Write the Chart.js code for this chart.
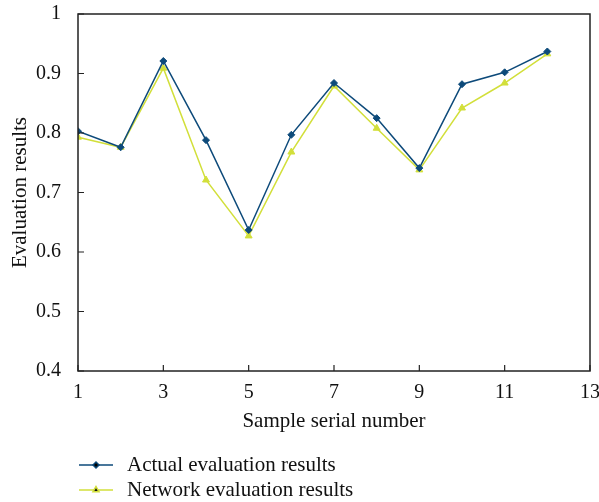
<!DOCTYPE html>
<html>
<head>
<meta charset="utf-8">
<script src="https://cdn.jsdelivr.net/npm/chart.js@4.4.0/dist/chart.umd.min.js"></script>
<style>
  html, body { margin: 0; padding: 0; background: #fff; }
  #wrap { width: 599px; height: 502px; }
</style>
</head>
<body>
<div id="wrap"><canvas id="chartEval"></canvas></div>
<script>
// data
const samples = [1, 2, 3, 4, 5, 6, 7, 8, 9, 10, 11, 12];
const actualResults = [0.803, 0.776, 0.921, 0.788, 0.637, 0.797, 0.884, 0.825, 0.741, 0.882, 0.902, 0.937];
const networkResults = [0.793, 0.776, 0.909, 0.721, 0.627, 0.768, 0.879, 0.808, 0.738, 0.842, 0.884, 0.933];
const xTicks = [1, 3, 5, 7, 9, 11, 13];
const yTicks = [0.4, 0.5, 0.6, 0.7, 0.8, 0.9, 1];

const serif = "'Liberation Serif', 'DejaVu Serif', serif";
const blue = "#0d4a7a";
const lime = "#d2df3a";

// box round the plot, inward ticks, and a legend with line + marker
const framePlugin = {
  id: "frame",
  afterDraw(chart) {
    const ctx = chart.ctx;
    const a = chart.chartArea;
    const xs = chart.scales.x, ys = chart.scales.y;
    ctx.save();
    ctx.strokeStyle = "#222";
    ctx.lineWidth = 1.5;
    ctx.strokeRect(a.left, a.top, a.right - a.left, a.bottom - a.top);
    ctx.lineWidth = 1.2;
    ctx.beginPath();
    xTicks.forEach(v => {
      const px = xs.getPixelForValue(v);
      ctx.moveTo(px, a.bottom);
      ctx.lineTo(px, a.bottom - 6);
    });
    yTicks.forEach(v => {
      const py = ys.getPixelForValue(v);
      ctx.moveTo(a.left, py);
      ctx.lineTo(a.left + 6, py);
    });
    ctx.stroke();

    // legend
    const rows = chart.data.datasets;
    rows.forEach((ds, i) => {
      const y = 465 + i * 25;
      ctx.strokeStyle = ds.borderColor;
      ctx.lineWidth = 1.5;
      ctx.beginPath();
      ctx.moveTo(79, y);
      ctx.lineTo(113, y);
      ctx.stroke();
      Chart.helpers.drawPoint(ctx, {
        pointStyle: ds.pointStyle, radius: ds.pointRadius - 0.5, borderWidth: 1
      }, 96, y);
      ctx.fillStyle = "#111";
      ctx.font = "21px " + serif;
      ctx.textBaseline = "middle";
      ctx.fillText(ds.label, 127, y);
    });
    ctx.restore();
  }
};

new Chart(document.getElementById("chartEval"), {
  type: "line",
  data: {
    labels: samples,
    datasets: [
      {
        label: "Actual evaluation results",
        data: samples.map((s, i) => ({ x: s, y: actualResults[i] })),
        borderColor: blue,
        backgroundColor: blue,
        borderWidth: 1.5,
        pointStyle: "rectRot",
        pointRadius: 3.5,
        pointBorderWidth: 1,
      },
      {
        label: "Network evaluation results",
        data: samples.map((s, i) => ({ x: s, y: networkResults[i] })),
        borderColor: lime,
        backgroundColor: lime,
        borderWidth: 1.5,
        pointStyle: "triangle",
        pointRadius: 4,
        pointBorderWidth: 1,
      },
    ],
  },
  options: {
    responsive: true,
    maintainAspectRatio: false,
    animation: false,
    layout: { padding: { left: 0, right: 9, top: 14, bottom: 64 } },
    plugins: {
      legend: { display: false },
      tooltip: { enabled: false },
    },
    scales: {
      x: {
        type: "linear",
        min: 1,
        max: 13,
        afterBuildTicks: (s) => { s.ticks = xTicks.map(v => ({ value: v })); },
        afterFit: (s) => { s.height = 67; s.paddingRight = 0; },
        grid: { display: false },
        border: { display: false },
        ticks: { color: "#111", font: { family: serif, size: 20 }, padding: 2 },
        title: {
          display: true,
          text: "Sample serial number",
          color: "#111",
          font: { family: serif, size: 21 },
          padding: { top: 6 },
        },
      },
      y: {
        min: 0.4,
        max: 1,
        afterBuildTicks: (s) => { s.ticks = yTicks.map(v => ({ value: v })); },
        afterFit: (s) => { s.width = 78; s.paddingTop = 0; s.paddingBottom = 0; },
        grid: { display: false },
        border: { display: false },
        ticks: {
          color: "#111",
          font: { family: serif, size: 20 },
          padding: 9,
          callback: (v) => String(Math.round(v * 10) / 10),
        },
        title: {
          display: true,
          text: "Evaluation results",
          color: "#111",
          font: { family: serif, size: 21 },
          padding: { top: 8, bottom: 4 },
        },
      },
    },
  },
  plugins: [framePlugin],
});
</script>
</body>
</html>
